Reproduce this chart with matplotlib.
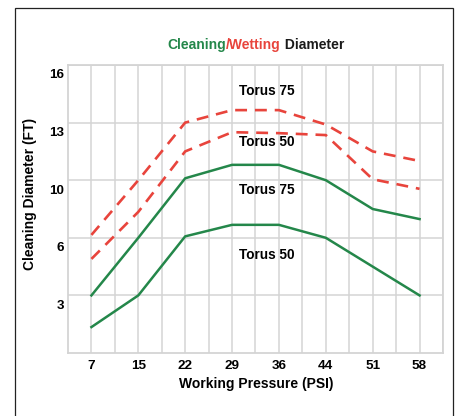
import numpy as np
import matplotlib
matplotlib.use('Agg')
from matplotlib import pyplot as plt
from matplotlib import patches, transforms

plt.rcParams['font.family'] = ['Liberation Sans', 'DejaVu Sans']

pressure = ['7', '15', '22', '29', '36', '44', '51', '58']
wet_75 = [6.2, 10.0, 13.0, 13.65, 13.65, 12.9, 11.5, 11.0]
wet_50 = [4.9, 7.8, 11.5, 12.5, 12.45, 12.35, 10.05, 9.4]
clean_75 = [3.0, 6.0, 10.1, 10.8, 10.8, 10.0, 8.0, 7.3]
clean_50 = [1.35, 3.0, 6.1, 6.9, 6.9, 6.0, 4.5, 3.0]
y_ticks = [3, 6, 10, 13, 16]

green = '#24874a'
red = '#e8443c'
grid_c = '#d4d4d4'

# y axis labels are evenly spaced although the values are not
y_stops = [0, 3, 6, 10, 13, 16]
y_levels = [0, 1, 2, 3, 4, 5]

def fwd(v):
    return np.interp(v, y_stops, y_levels)

def inv(v):
    return np.interp(v, y_levels, y_stops)

fig = plt.figure(figsize=(4.56, 4.16), dpi=100)
ax = fig.add_axes([68/456, 1 - 353/416, 375/456, 288/416])
ax.set_yscale('function', functions=(fwd, inv))

x = np.arange(len(pressure))
ax.plot(x, wet_75, color=red, lw=1.9, dashes=(4.5, 3))
ax.plot(x, wet_50, color=red, lw=1.9, dashes=(4.5, 3))
ax.plot(x, clean_75, color=green, lw=1.8)
ax.plot(x, clean_50, color=green, lw=1.8)

ax.set_xlim(-0.5, 7.5)
ax.set_ylim(0, 16)
ax.set_xticks(x)
ax.set_xticklabels(pressure)
ax.set_xticks(x + 0.5, minor=True)
ax.set_yticks(y_ticks)
ax.set_yticks([], minor=True)
ax.grid(True, which='both', axis='x', color=grid_c, lw=1.1)
ax.grid(True, which='major', axis='y', color=grid_c, lw=1.1)
ax.set_axisbelow(True)
ax.tick_params(which='both', length=0)
ax.tick_params(axis='x', pad=5, labelsize=9.7)
ax.tick_params(axis='y', pad=3, labelsize=9.7)
for lab in ax.get_xticklabels() + ax.get_yticklabels():
    lab.set_fontweight('bold')
# y labels sit a little below their gridlines in the original
off = transforms.ScaledTranslation(0, -9/100, fig.dpi_scale_trans)
for lab in ax.get_yticklabels():
    lab.set_transform(lab.get_transform() + off)
for s in ax.spines.values():
    s.set_color(grid_c)
    s.set_linewidth(1.3)

for txt, yv in [('Torus 75', 14.65), ('Torus 50', 12.0), ('Torus 75', 9.3), ('Torus 50', 5.1)]:
    ax.text(3.75, yv, txt, ha='center', va='center', fontsize=9.8, fontweight='bold')

ax.set_xlabel('Working Pressure (PSI)', fontsize=10, fontweight='bold')
ax.xaxis.set_label_coords(256/375 - 68/375, -(384 - 353)/288)
ax.xaxis.label.set_va('center')
ax.set_ylabel('Cleaning Diameter (FT)', fontsize=10, fontweight='bold')
ax.yaxis.set_label_coords((37 - 68)/375, (353 - 194)/288)

# two-colour title
y_t = 1 - 45/416
t1 = fig.text(0.5, y_t, 'Cleaning', color=green, fontsize=10, fontweight='bold', va='center')
t2 = fig.text(0.5, y_t, '/Wetting', color=red, fontsize=10, fontweight='bold', va='center')
t3 = fig.text(0.5, y_t, ' Diameter', color='#1a1a1a', fontsize=10, fontweight='bold', va='center')
fig.canvas.draw()
r = fig.canvas.get_renderer()
w1 = t1.get_window_extent(r).width
w2 = t2.get_window_extent(r).width
w3 = t3.get_window_extent(r).width
x0 = 256 - (w1 + w2 + w3) / 2
t1.set_position((x0 / 456, y_t))
t2.set_position(((x0 + w1) / 456, y_t))
t3.set_position(((x0 + w1 + w2) / 456, y_t))

frame = patches.Rectangle((15/456, -0.05), 438/456, 1.05 - 8/416, transform=fig.transFigure,
                          fill=False, edgecolor='#222222', lw=0.9, clip_on=False)
fig.patches.append(frame)

fig.savefig('out.png', dpi=100)
